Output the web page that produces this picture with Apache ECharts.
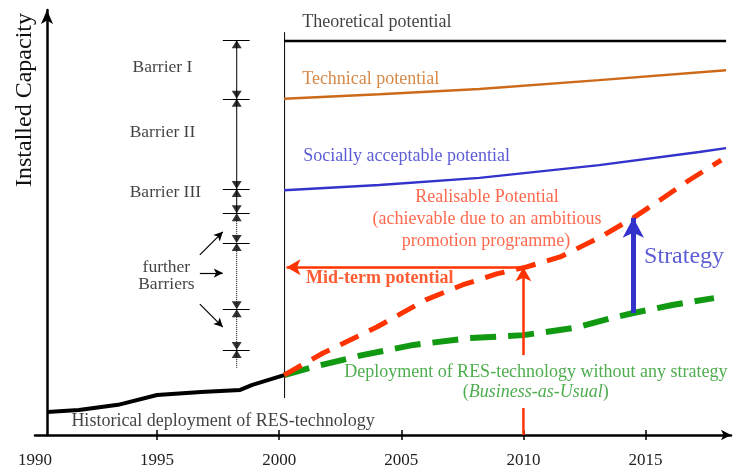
<!DOCTYPE html>
<html>
<head>
<meta charset="utf-8">
<script src="https://cdn.jsdelivr.net/npm/echarts@6/dist/echarts.min.js"></script>
<style>
html, body { margin: 0; padding: 0; background: #fff; }
#chart { width: 733px; height: 470px; }
</style>
</head>
<body>
<div id="chart"></div>
<script>
// x = year, y = installed capacity (arbitrary 0..100 scale, no y labels in the source)
const xTicks = [1995, 2000, 2005, 2010, 2015];
const xLabels = [1990, 1995, 2000, 2005, 2010, 2015];

const histYears = [1990.5, 1991.8, 1993.4, 1995, 1996.8, 1998.4, 1998.9, 2000.2];
const histValues = [5.4, 5.9, 7.1, 9.4, 10.1, 10.6, 11.8, 14.1];

const theoYears = [2000.2, 2018.3];
const theoValues = [92.7, 92.7];

const techYears = [2000.2, 2004.1, 2008.2, 2013.1, 2018.3];
const techValues = [79.1, 80.2, 81.4, 83.5, 85.8];

const socialYears = [2000.2, 2004.1, 2008.2, 2013.1, 2017.2, 2018.3];
const socialValues = [57.6, 58.8, 60.5, 63.5, 66.6, 67.5];

const realYears = [2000.2, 2001.8, 2004.0, 2006.0, 2007.5, 2008.9, 2010.1, 2011.5, 2013.1, 2014.5, 2015.6, 2016.8, 2018.1];
const realValues = [14.1, 19.3, 25.4, 31.8, 35.3, 37.9, 39.5, 41.9, 46.4, 51.1, 55.3, 60.0, 64.7];

const bauYears = [2000.2, 2001.4, 2003.4, 2005.5, 2007.8, 2010.0, 2012.1, 2013.6, 2014.5, 2016.1, 2017.8];
const bauValues = [14.1, 16.0, 18.8, 21.2, 22.8, 23.5, 25.2, 27.5, 28.7, 30.6, 32.2];

// barrier scale (left of 2000)
const barrierYear = 1998.26;
const barrierLevels = [92.9, 79.1, 57.9, 52.2, 45.2, 29.6, 20.0];
const barrierBottom = 15.8;
const barrierTickYears = [1997.69, 1998.79];
const furtherFrom = [[1996.75, 42.4], [1996.75, 38.1], [1996.75, 30.8]];
const furtherTo = [[1997.69, 47.8], [1997.69, 38.1], [1997.69, 25.4]];

// divider at 2000 and the arrows
const dividerYear = 2000.22;
const dividerRange = [8.7, 94.8];
const midYear = 2010.0;
const midValue = 39.5;
const midLeftYear = 2000.3;
const midGap = [6.35, 18.8];
const strategyYear = 2014.5;
const strategyRange = [28.7, 51.1];

const serif = '"Liberation Serif", "Times New Roman", serif';
const pair = (xs, ys) => xs.map((x, i) => [x, ys[i]]);

function lineSeries(name, data, color, width, type) {
  return {
    name, type: 'line', data, symbol: 'none', silent: true, animation: false,
    lineStyle: { color, width, type: type || 'solid', cap: 'butt' }
  };
}

function note(text, x, y, color, align, extra) {
  return {
    value: [x, y],
    label: Object.assign({
      show: true, formatter: text, color, position: [0, 0],
      align: align || 'left', verticalAlign: 'middle',
      fontFamily: serif, fontSize: 18
    }, extra || {})
  };
}

const chart = echarts.init(document.getElementById('chart'), null, { renderer: 'canvas' });

const option = {
  animation: false,
  grid: { left: 35, right: 2, top: 10, bottom: 35 },
  xAxis: [{
    type: 'value', min: 1990, max: 2018.5,
    axisLine: { show: true, onZero: false, symbol: ['none', 'arrow'], symbolSize: [8, 10], lineStyle: { color: '#000', width: 2.5 } },
    axisTick: { show: true, customValues: xTicks, length: 5, lineStyle: { color: '#000', width: 1.5 } },
    axisLabel: { customValues: xLabels, formatter: v => String(v), color: '#222', fontFamily: serif, fontSize: 17, margin: 17 },
    splitLine: { show: false }
  }, {
    type: 'value', min: 1990, max: 2018.5, position: 'bottom',
    axisLine: { show: false },
    axisTick: { show: true, inside: true, customValues: xTicks, length: 5, lineStyle: { color: '#000', width: 1.5 } },
    axisLabel: { show: false },
    splitLine: { show: false }
  }],
  yAxis: {
    type: 'value', min: 0, max: 100, offset: -12,
    axisLine: { show: true, onZero: false, symbol: ['none', 'arrow'], symbolSize: [9, 14], lineStyle: { color: '#000', width: 2.5 } },
    axisTick: { show: false }, axisLabel: { show: false }, splitLine: { show: false }
  },
  graphic: [{
    type: 'text', x: 25, y: 100, rotation: Math.PI / 2,
    style: { text: 'Installed Capacity', fontFamily: serif, fontSize: 24, fill: '#111', align: 'center', verticalAlign: 'middle' }
  }],
  series: [
    lineSeries('divider', [[dividerYear, dividerRange[0]], [dividerYear, dividerRange[1]]], '#000', 1),
    lineSeries('historical', pair(histYears, histValues), '#000', 4),
    lineSeries('theoretical', pair(theoYears, theoValues), '#000', 2.5),
    lineSeries('technical', pair(techYears, techValues), '#CC6A1A', 2.5),
    lineSeries('social', pair(socialYears, socialValues), '#3333CC', 2.5),
    // barrier scale
    lineSeries('barrierSolid', [[barrierYear, barrierLevels[0]], [barrierYear, barrierLevels[3]]], '#000', 1),
    lineSeries('barrierDotted', [[barrierYear, barrierLevels[3]], [barrierYear, barrierBottom]], '#000', 1, 'dotted'),
    {
      name: 'barrierTicks', type: 'line', data: [], silent: true,
      markLine: {
        silent: true, symbol: 'none', label: { show: false },
        lineStyle: { color: '#000', width: 1, type: 'solid' },
        data: barrierLevels.map(v => [{ coord: [barrierTickYears[0], v] }, { coord: [barrierTickYears[1], v] }])
      }
    },
    {
      name: 'barrierDown', type: 'scatter', silent: true, symbol: 'triangle', symbolRotate: 180,
      symbolSize: [10, 8], symbolOffset: [0, -4], itemStyle: { color: '#000' },
      data: barrierLevels.slice(1).map(v => [barrierYear, v])
    },
    {
      name: 'barrierUp', type: 'scatter', silent: true, symbol: 'triangle',
      symbolSize: [10, 8], symbolOffset: [0, 4], itemStyle: { color: '#000' },
      data: barrierLevels.map(v => [barrierYear, v])
    },
    {
      name: 'furtherArrows', type: 'line', data: [], silent: true,
      markLine: {
        silent: true, symbol: ['none', 'arrow'], symbolSize: [7, 9], label: { show: false },
        lineStyle: { color: '#000', width: 1.2, type: 'solid' },
        data: furtherFrom.map((f, i) => [{ coord: f }, { coord: furtherTo[i] }])
      }
    },
    // mid-term potential arrows
    lineSeries('midLow', [[midYear, 0], [midYear, midGap[0]]], '#FF3300', 2.5),
    {
      name: 'midArrows', type: 'line', data: [], silent: true,
      markLine: {
        silent: true, symbol: ['none', 'arrow'], symbolSize: [12, 14], label: { show: false },
        lineStyle: { color: '#FF3300', width: 2.5, type: 'solid' },
        data: [
          [{ coord: [midYear, midValue] }, { coord: [midLeftYear, midValue] }],
          [{ coord: [midYear, midGap[1]] }, { coord: [midYear, midValue] }]
        ]
      }
    },
    lineSeries('bau', pair(bauYears, bauValues), '#119911', 6, [26, 12]),
    lineSeries('realisable', pair(realYears, realValues), '#FF3300', 5, [20, 12]),
    {
      name: 'strategy', type: 'line', data: [], silent: true,
      markLine: {
        silent: true, symbol: ['none', 'arrow'], symbolSize: [16, 20], label: { show: false },
        lineStyle: { color: '#3333CC', width: 5, type: 'solid' },
        data: [[{ coord: [strategyYear, strategyRange[0]] }, { coord: [strategyYear, strategyRange[1]] }]]
      }
    },
    {
      name: 'notes', type: 'scatter', silent: true, symbolSize: 1, z: 5,
      itemStyle: { color: 'rgba(0,0,0,0)' },
      data: [
        note('Theoretical potential', 2000.96, 96.9, '#111'),
        note('Technical potential', 2000.96, 83.5, '#CC6A1A'),
        note('Socially acceptable potential', 2001.0, 65.4, '#3333CC'),
        note('Realisable Potential', 2008.53, 55.8, '#FF4422', 'center'),
        note('(achievable due to an ambitious', 2008.53, 50.6, '#FF4422', 'center'),
        note('promotion programme)', 2008.49, 45.4, '#FF4422', 'center'),
        note('Mid-term potential', 2001.12, 36.7, '#FF3300', 'left', { fontWeight: 'bold' }),
        note('Strategy', 2016.6, 41.9, '#3333CC', 'center', { fontSize: 24 }),
        note('Deployment of RES-technology without any strategy', 2010.53, 14.6, '#229922', 'center'),
        note('({i|Business-as-Usual})', 2010.53, 9.9, '#229922', 'center', {
          rich: { i: { fontStyle: 'italic', fontFamily: serif, fontSize: 18, color: '#229922' } }
        }),
        note('Historical deployment of RES-technology', 1991.51, 3.06, '#111'),
        note('Barrier I', 1995.24, 86.4, '#111', 'center', { fontSize: 17.5 }),
        note('Barrier II', 1995.24, 71.1, '#111', 'center', { fontSize: 17.5 }),
        note('Barrier III', 1995.36, 56.9, '#111', 'center', { fontSize: 17.5 }),
        note('further', 1995.4, 39.3, '#111', 'center', { fontSize: 17.5 }),
        note('Barriers', 1995.4, 35.3, '#111', 'center', { fontSize: 17.5 })
      ]
    }
  ]
};

chart.setOption(option);
window.addEventListener('resize', () => chart.resize());
</script>
</body>
</html>
